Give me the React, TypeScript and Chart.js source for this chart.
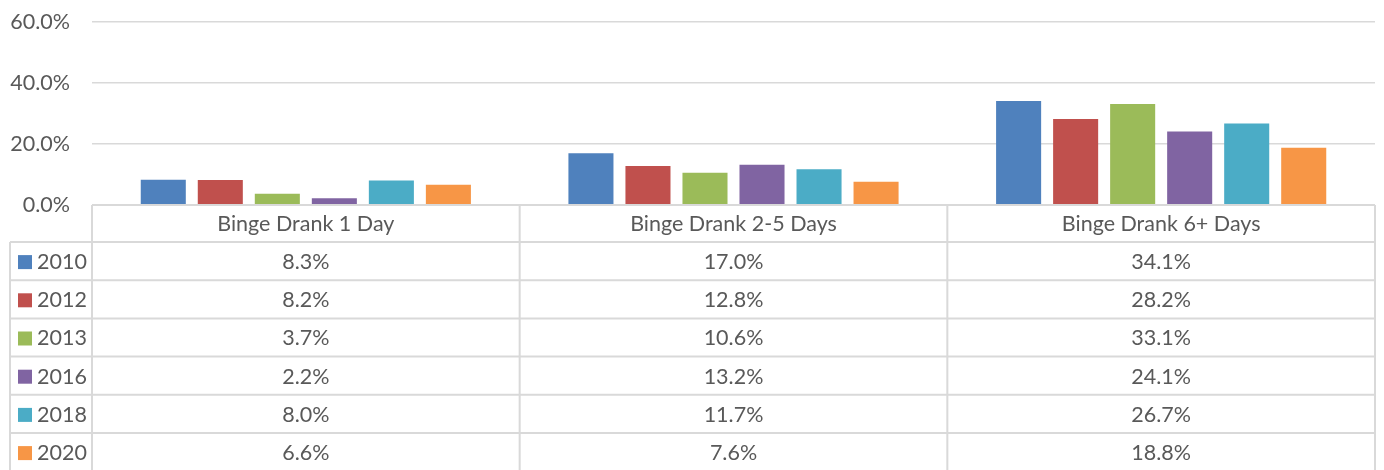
import React, { useEffect, useRef } from "react";
import { Chart, registerables } from "chart.js";

Chart.register(...registerables);

const categories = ["Binge Drank 1 Day", "Binge Drank 2-5 Days", "Binge Drank 6+ Days"];
const years = ["2010", "2012", "2013", "2016", "2018", "2020"];
const values2010 = [8.3, 17.0, 34.1];
const values2012 = [8.2, 12.8, 28.2];
const values2013 = [3.7, 10.6, 33.1];
const values2016 = [2.2, 13.2, 24.1];
const values2018 = [8.0, 11.7, 26.7];
const values2020 = [6.6, 7.6, 18.8];
const seriesValues = [values2010, values2012, values2013, values2016, values2018, values2020];
const seriesColors = ["#4F81BD", "#C0504D", "#9BBB59", "#8064A2", "#4BACC6", "#F79646"];
const yTickValues = [0, 20, 40, 60];

const FONT = "Lato, 'Open Sans', sans-serif";
const TEXT = "#595959";
const LINE = "#D9D9D9";
const FS = 21.5;

const tablePlugin = {
  id: "dataTable",
  afterDraw(chart: any) {
    const ctx = chart.ctx as CanvasRenderingContext2D;
    const xs = chart.scales.x;
    const area = chart.chartArea;
    const n = categories.length;
    const catW = (area.right - area.left) / n;
    const centers = categories.map((_, i) => xs.getPixelForValue(i));
    const edges = [area.left, ...centers.map((c: number) => c + catW / 2)];
    const top = area.bottom;
    const headerH = 37;
    const rowH = 38.2;
    const legendLeft = 10;
    const bottom = chart.height;

    ctx.save();
    ctx.strokeStyle = LINE;
    ctx.lineWidth = 2;
    ctx.beginPath();
    ctx.moveTo(area.left, top);
    ctx.lineTo(area.right, top);
    for (let r = 0; r < years.length; r++) {
      const y = top + headerH + r * rowH;
      ctx.moveTo(legendLeft, y);
      ctx.lineTo(area.right, y);
    }
    ctx.moveTo(legendLeft, top + headerH);
    ctx.lineTo(legendLeft, bottom);
    edges.forEach((e: number) => {
      ctx.moveTo(e, top);
      ctx.lineTo(e, bottom);
    });
    ctx.stroke();

    ctx.font = `${FS}px ${FONT}`;
    ctx.fillStyle = TEXT;
    ctx.textBaseline = "middle";
    ctx.textAlign = "center";
    categories.forEach((c, i) => {
      ctx.fillText(c, centers[i], top + headerH / 2 + 1);
    });
    years.forEach((yr, r) => {
      const cy = top + headerH + r * rowH + rowH / 2 + 1;
      ctx.fillStyle = seriesColors[r];
      ctx.fillRect(18, cy - 7, 14, 14);
      ctx.fillStyle = TEXT;
      ctx.textAlign = "left";
      ctx.fillText(yr, 37, cy);
      ctx.textAlign = "center";
      seriesValues[r].forEach((v, i) => {
        ctx.fillText(v.toFixed(1) + "%", centers[i], cy);
      });
    });
    ctx.restore();
  },
};

export default function App() {
  const ref = useRef<HTMLCanvasElement>(null);
  useEffect(() => {
    document.body.style.margin = "0";
    const chart = new Chart(ref.current!, {
      type: "bar",
      data: {
        labels: categories,
        datasets: years.map((yr, i) => ({
          label: yr,
          data: seriesValues[i],
          backgroundColor: seriesColors[i],
          categoryPercentage: 0.8,
          barPercentage: 0.79,
        })),
      },
      options: {
        responsive: false,
        animation: false,
        devicePixelRatio: 1,
        layout: { padding: { left: 0, right: 9, top: 22, bottom: 265 } },
        plugins: { legend: { display: false }, tooltip: { enabled: false } },
        scales: {
          x: { display: false },
          y: {
            min: 0,
            max: 60,
            afterFit: (s: any) => {
              s.width = 92;
              s.paddingTop = 0;
              s.paddingBottom = 0;
            },
            afterBuildTicks: (s: any) => {
              s.ticks = yTickValues.map((v) => ({ value: v }));
            },
            border: { display: false },
            grid: { color: LINE, lineWidth: 1.5, drawTicks: false },
            ticks: {
              padding: 22,
              color: TEXT,
              font: { family: FONT, size: FS },
              callback: (v: any) => Number(v).toFixed(1) + "%",
            },
          },
        },
      },
      plugins: [tablePlugin],
    });
    return () => chart.destroy();
  }, []);
  return (
    <div style={{ width: 1384, height: 470 }}>
      <canvas ref={ref} width={1384} height={470} />
    </div>
  );
}
